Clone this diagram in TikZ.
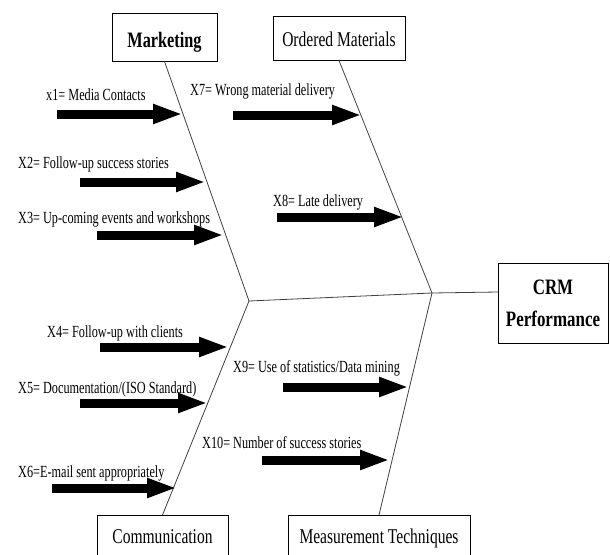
\documentclass[tikz,border=0pt]{standalone}
\usepackage{fontspec}
\setmainfont{Liberation Serif}[FakeStretch=0.72]
\newfontfamily\hdfont{Liberation Serif}[FakeStretch=0.74]
\newfontfamily\crmfont{Liberation Serif}[FakeStretch=0.77]
\usetikzlibrary{arrows.meta}
\tikzset{
  bone/.style={draw=black!75, line width=0.8pt},
  catbox/.style={draw=black, line width=1pt, inner sep=0pt, align=center},
  catreg/.style={catbox, font=\hdfont\fontsize{21}{24}\selectfont},
  catbold/.style={catbox, font=\hdfont\fontsize{22}{32}\selectfont\bfseries},
  lbl/.style={anchor=base west, inner sep=0pt, font=\fontsize{17}{19}\selectfont},
  fat/.style={line width=9pt, -{Triangle[length=30pt,width=18pt]}}
}
\begin{document}
\begin{tikzpicture}[x=1pt,y=-1pt]
\useasboundingbox (0,0) rectangle (610,554);
\clip (0,0) rectangle (610,554);
% category boxes
\node[catbold, minimum width=105pt, minimum height=48pt, text height=20pt, text depth=0pt] (mkt) at (164.5,37) {Marketing};
\node[catreg, minimum width=132pt, minimum height=44pt, text height=16pt, text depth=0pt] (ord) at (339,38) {Ordered Materials};
\node[catbold, font=\crmfont\fontsize{22}{32}\selectfont\bfseries, minimum width=110pt, minimum height=80pt] (crm) at (553,303) {CRM\\Performance};
\node[catreg, anchor=north, minimum width=131pt, text height=14pt, text depth=4pt, inner ysep=14pt] (com) at (162.5,515) {Communication};
\node[catreg, anchor=north, minimum width=182pt, text height=14pt, text depth=4pt, inner ysep=14pt] (mea) at (379,515) {Measurement Techniques};
% spine vertices
\coordinate (v1) at (249,301);
\coordinate (v2) at (432,293);
\coordinate (vc) at (498,292);
% bones
\draw[bone] (mkt.south) -- (v1);
\draw[bone] (ord.south) -- (v2);
\draw[bone] (v1) -- (com.north);
\draw[bone] (v2) -- (mea.north);
\draw[bone] (v1) -- (v2) -- (vc);
% labels
\node[lbl] (t1) at (46,100) {x1= Media Contacts};
\node[lbl] (t2) at (18,168) {X2= Follow-up success stories};
\node[lbl] (t3) at (18,223) {X3= Up-coming events and workshops};
\node[lbl] (t7) at (190,95) {X7= Wrong material delivery};
\node[lbl] (t8) at (273,206) {X8= Late delivery};
\node[lbl] (t4) at (47,337) {X4= Follow-up with clients};
\node[lbl] (t5) at (18,393) {X5= Documentation/(ISO Standard)};
\node[lbl] (t6) at (18,477) {X6=E-mail sent appropriately};
\node[lbl] (t9) at (233,372) {X9= Use of statistics/Data mining};
\node[lbl] (t10) at (202,448) {X10= Number of success stories};
% arrow endpoints
\coordinate (a1s) at (57,114);  \coordinate (a1e) at (183,114);
\coordinate (a2s) at (80,182);  \coordinate (a2e) at (206,182);
\coordinate (a3s) at (97,235);  \coordinate (a3e) at (224,235);
\coordinate (a7s) at (233,115); \coordinate (a7e) at (362,115);
\coordinate (a8s) at (277,217); \coordinate (a8e) at (404,217);
\coordinate (a4s) at (100,347); \coordinate (a4e) at (229,347);
\coordinate (a5s) at (80,403);  \coordinate (a5e) at (208,403);
\coordinate (a6s) at (52,488);  \coordinate (a6e) at (177,488);
\coordinate (a9s) at (283,387); \coordinate (a9e) at (409,387);
\coordinate (a10s) at (262,460); \coordinate (a10e) at (390,460);
\foreach \i in {1,2,3,7,8,4,5,6,9,10}{
  \draw[fat] (a\i s) -- (a\i e);
}
\end{tikzpicture}
\end{document}
